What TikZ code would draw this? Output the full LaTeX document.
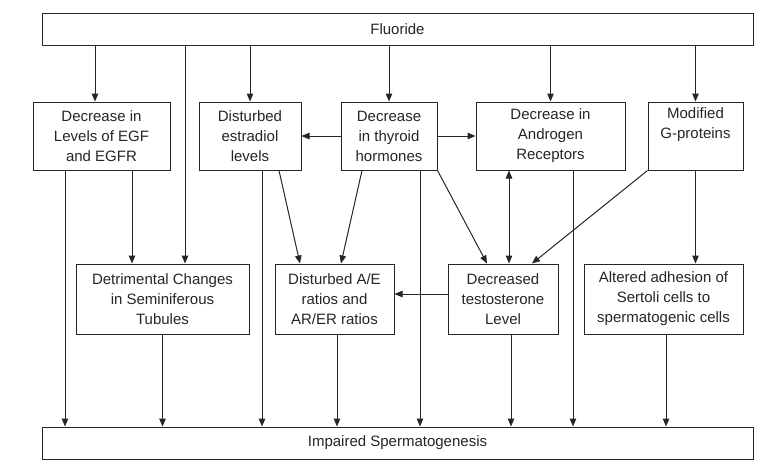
\documentclass[tikz,border=0pt]{standalone}
\usepackage{fontspec}
\setmainfont{Liberation Sans}
\usetikzlibrary{arrows.meta}
\definecolor{ink}{HTML}{262626}
\tikzset{
  box/.style={draw=ink, line width=1pt, rectangle, inner sep=0pt, align=center,
    text=ink, font=\fontsize{15}{20}\selectfont},
  arr/.style={draw=ink, line width=1pt, -{Triangle[length=8pt,width=6.5pt]}},
  darr/.style={draw=ink, line width=1pt, {Triangle[length=8pt,width=6.5pt]}-{Triangle[length=8pt,width=6.5pt]}},
}
\begin{document}
\begin{tikzpicture}[x=1pt,y=-1pt]
\useasboundingbox[fill=white] (0,0) rectangle (766,469);
% nodes
\node[box, minimum width=711pt, minimum height=32pt] (fluor) at (397.5,29) {Fluoride};
\node[box, minimum width=137pt, minimum height=68pt] (egf) at (101.5,136) {Decrease in\\Levels of EGF\\and EGFR};
\node[box, minimum width=102pt, minimum height=68pt] (estr) at (250,136) {Disturbed\\estradiol\\levels};
\node[box, minimum width=96pt, minimum height=68pt] (thy) at (389,136) {Decrease\\in thyroid\\hormones};
\node[box, minimum width=149pt, minimum height=68pt] (andr) at (550.5,136) {Decrease in\\Androgen\\Receptors};
\node[box, minimum width=95pt, minimum height=68pt] (gprot) at (695.5,136) {Modified\\G-proteins\\\strut};
\node[box, minimum width=173pt, minimum height=70pt] (detr) at (162.5,299) {Detrimental Changes\\in Seminiferous\\Tubules};
\node[box, minimum width=119pt, minimum height=70pt] (ae) at (334.5,299) {Disturbed A/E\\ratios and\\AR/ER ratios};
\node[box, minimum width=110pt, minimum height=70pt] (test) at (503,299) {Decreased\\testosterone\\Level};
\node[box, minimum width=159pt, minimum height=70pt] (alt) at (663.5,299) {Altered adhesion of\\Sertoli cells to\\spermatogenic cells};
\node[box, minimum width=711pt, minimum height=32pt] (imp) at (397.5,443) {Impaired Spermatogenesis};
% helper coordinates
\coordinate (egfin) at ([xshift=-6.5pt]egf.north);
\coordinate (detrin) at ([xshift=22.5pt]detr.north);
\coordinate (egfo1) at ([xshift=-36.5pt]egf.south);
\coordinate (egfo2) at ([xshift=30.5pt]egf.south);
\coordinate (estro1) at ([xshift=12pt]estr.south);
\coordinate (estro2) at ([xshift=29pt]estr.south);
\coordinate (aein1) at ([xshift=-34.5pt]ae.north);
\coordinate (thyo1) at ([xshift=-27pt]thy.south);
\coordinate (aein2) at ([xshift=6.5pt]ae.north);
\coordinate (thyo2) at ([xshift=31pt]thy.south);
\coordinate (testin1) at ([xshift=-16pt]test.north);
\coordinate (testin2) at ([xshift=6pt]test.north);
\coordinate (testin3) at ([xshift=29pt]test.north);
\coordinate (andro) at ([xshift=22.5pt]andr.south);
\coordinate (testw) at ([yshift=5pt]test.west);
\coordinate (aeo) at ([xshift=2.5pt]ae.south);
\coordinate (testo) at ([xshift=8pt]test.south);
\coordinate (alto) at ([xshift=2.5pt]alt.south);
% from Fluoride
\draw[arr] (fluor.south -| egfin) -- (egfin);
\draw[arr] (fluor.south -| detrin) -- (detrin);
\draw[arr] (fluor.south -| estr.north) -- (estr.north);
\draw[arr] (fluor.south -| thy.north) -- (thy.north);
\draw[arr] (fluor.south -| andr.north) -- (andr.north);
\draw[arr] (fluor.south -| gprot.north) -- (gprot.north);
% row 1 horizontals
\draw[arr] (thy.west) -- (estr.east);
\draw[arr] (thy.east) -- (andr.west);
% row1 to row2
\draw[arr] (egfo2) -- (egfo2 |- detr.north);
\draw[arr] (estro2) -- (aein1);
\draw[arr] (thyo1) -- (aein2);
\draw[arr] (thy.south east) -- (testin1);
\draw[darr] (andr.south -| testin2) -- (testin2);
\draw[arr] (gprot.south west) -- (testin3);
\draw[arr] (gprot.south) -- (gprot.south |- alt.north);
\draw[arr] (testw) -- (testw -| ae.east);
% to Impaired
\draw[arr] (egfo1) -- (egfo1 |- imp.north);
\draw[arr] (estro1) -- (estro1 |- imp.north);
\draw[arr] (thyo2) -- (thyo2 |- imp.north);
\draw[arr] (andro) -- (andro |- imp.north);
\draw[arr] (detr.south) -- (detr.south |- imp.north);
\draw[arr] (aeo) -- (aeo |- imp.north);
\draw[arr] (testo) -- (testo |- imp.north);
\draw[arr] (alto) -- (alto |- imp.north);
\end{tikzpicture}
\end{document}
